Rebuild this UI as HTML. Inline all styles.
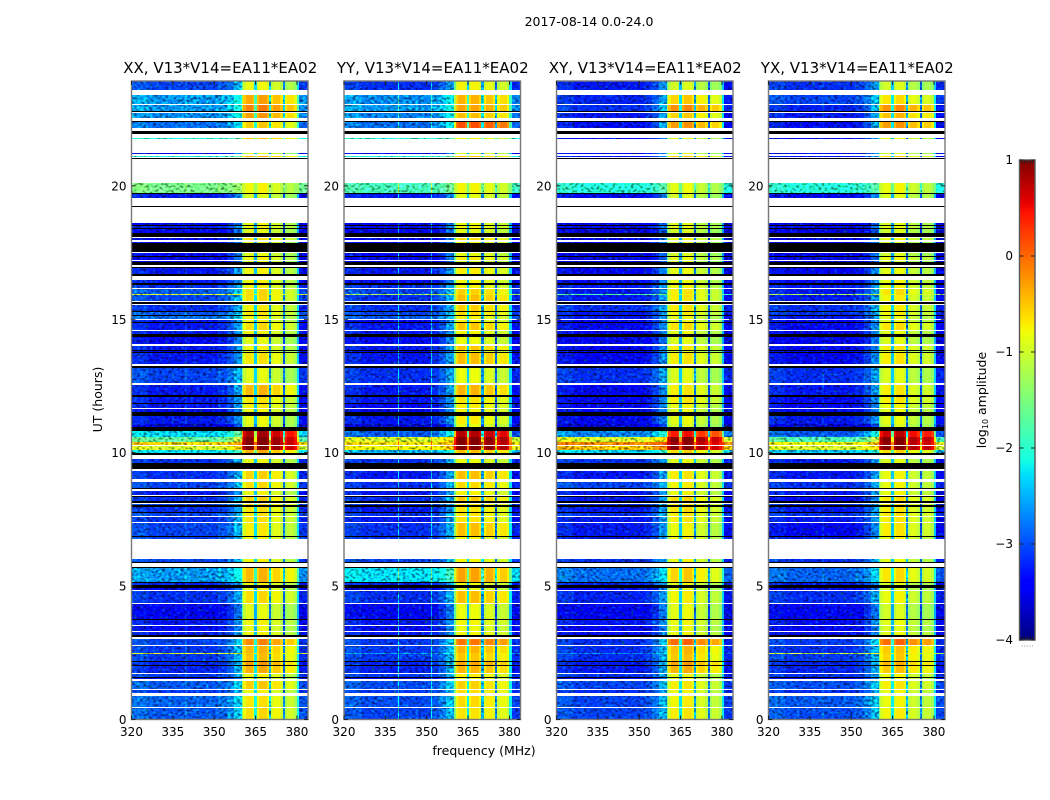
<!DOCTYPE html>
<html lang="en">
<head>
<meta charset="utf-8">
<title>2017-08-14 0.0-24.0</title>
<style>
html,body{margin:0;padding:0;background:#fff;}
svg{display:block;font-family:"DejaVu Sans","Liberation Sans",sans-serif;}
text{fill:#000;}
</style>
</head>
<body>
<svg id="figure" width="1050" height="800" viewBox="0 0 1050 800" xmlns="http://www.w3.org/2000/svg">
<defs>
<filter id="speckle" filterUnits="userSpaceOnUse" x="0" y="0" width="1050" height="800" color-interpolation-filters="sRGB">
<feTurbulence type="fractalNoise" baseFrequency="0.32 0.42" numOctaves="1" seed="7" result="n"/>
<feColorMatrix in="n" type="matrix" values="2.2 0 0 0 -0.6 2.2 0 0 0 -0.6 2.2 0 0 0 -0.6 0 0 0 0 1" result="gray"/>
<feComposite in="SourceGraphic" in2="gray" operator="arithmetic" k1="1.0" k2="0.5" k3="0" k4="0" result="shaded"/>
<feColorMatrix in="n" type="matrix" values="0 0 0 0 0 0 3 0 0 -1.6 0 0 0 0 0 0 0 0 0 1" result="greenSpeck"/>
<feComposite in="shaded" in2="greenSpeck" operator="arithmetic" k1="0" k2="1" k3="0.35" k4="0" result="lit"/>
<feComposite in="lit" in2="SourceGraphic" operator="in"/>
</filter>
</defs>
<rect x="0" y="0" width="1050" height="800" fill="#fff"/>
<text x="589" y="26" font-size="12.5" text-anchor="middle">2017-08-14 0.0-24.0</text>
<text x="484" y="755" font-size="12.5" text-anchor="middle">frequency (MHz)</text>
<text x="102" y="399.5" font-size="12.5" text-anchor="middle" transform="rotate(-90 102 399.5)">UT (hours)</text>
<text x="986" y="400" font-size="12.5" text-anchor="middle" transform="rotate(-90 986 400)">log<tspan font-size="8" dy="2">10</tspan><tspan dy="-2"> amplitude</tspan></text>
<g id="panels"></g>
<g id="colorbar"></g>
</svg>
<script>
// ---- chart data ----
const panelNames = ['XX', 'YY', 'XY', 'YX'];
const panelTitles = ['XX, V13*V14=EA11*EA02', 'YY, V13*V14=EA11*EA02', 'XY, V13*V14=EA11*EA02', 'YX, V13*V14=EA11*EA02'];
const xTicks = [320, 335, 350, 365, 380];
const yTicks = [0, 5, 10, 15, 20];
const colorbarTicks = [1, 0, -1, -2, -3, -4];
const colorbarMinorTicks = [-3.9, -3.8, -3.7, -3.6, -3.5];

// upper edge (UT hours) of every time band, top to bottom
const rowTop = [
23.93,23.61,23.41,23.07,23.03,22.81,22.77,22.72,22.56,22.43,
22.40,22.16,22.07,21.95,21.80,21.76,21.22,21.18,21.13,21.08,
21.05,21.02,20.11,19.73,19.69,19.54,19.25,19.22,18.62,18.53,
18.50,18.43,18.38,18.25,18.10,18.06,17.96,17.91,17.85,17.53,
17.50,17.37,17.32,17.22,17.19,17.14,17.02,16.97,16.91,16.70,
16.62,16.47,16.35,16.29,16.16,16.14,15.95,15.91,15.70,15.64,
15.58,15.54,15.31,15.26,15.16,15.11,15.01,14.96,14.91,14.85,
14.61,14.56,14.44,14.35,14.06,13.99,13.85,13.81,13.77,13.73,
13.32,13.26,13.16,12.60,12.54,12.16,12.08,11.86,11.84,11.68,
11.64,11.53,11.38,11.06,10.97,10.82,10.60,10.41,10.29,10.25,
10.10,10.00,9.93,9.76,9.60,9.40,9.33,9.00,8.91,8.68,
8.63,8.58,8.50,8.48,8.43,8.38,8.33,8.19,8.10,8.08,
8.04,7.98,7.79,7.73,7.63,7.60,7.39,7.35,6.88,6.83,
6.77,6.02,5.91,5.88,5.73,5.67,5.17,5.13,5.03,4.94,
4.85,4.82,4.37,4.33,3.77,3.73,3.54,3.50,3.33,3.29,
3.17,3.08,3.03,2.79,2.75,2.48,2.46,2.19,2.16,2.04,
2.01,1.73,1.69,1.58,1.54,1.52,1.44,1.13,1.09,0.98,
0.88,0.48,0.44];
// d = measured data, w = blank (no data), k = flagged black
const rowKind = [
'd','w','d','w','d','k','w','d','w','k',
'd','w','k','w','d','w','d','w','d','w',
'k','w','d','k','d','w','k','w','d','k',
'd','k','d','k','w','d','w','d','k','w',
'd','k','d','w','d','k','w','k','d','k',
'w','d','k','d','w','d','d','d','w','k',
'w','d','k','d','k','d','w','d','k','d',
'w','d','k','d','w','d','k','d','k','d',
'w','k','d','w','d','k','d','k','d','w',
'd','k','d','d','k','d','d','d','w','d',
'd','k','w','d','k','w','d','w','d','k',
'w','d','w','d','w','k','d','k','w','d',
'k','d','k','d','w','d','w','d','k','d',
'w','d','k','w','k','d','k','d','k','d',
'w','d','w','d','k','d','w','d','w','d',
'k','w','d','w','d','d','d','k','d','k',
'd','w','d','k','d','w','d','w','d','w',
'd','w','d'];

// log10 amplitude of the continuum (320-352 MHz) for each data band
const xxContinuum = [
-3.1,-2.7,-2.7,-2.75,-2.9,-2.1,-3.4,-2.1,-1.55,-3.3,
-3.5,-3.3,-3.5,-3.4,-3.4,-3.4,-3.5,-3.5,-3.3,-3.3,
-3.2,-3.0,-1.0,-3.1,-3.2,-3.0,-2.9,-3.3,-3.3,-3.3,
-3.4,-3.3,-3.4,-3.3,-3.1,-3.3,-3.3,-3.3,-3.4,-3.3,
-3.7,-2.4,-1.7,-0.5,-1.0,-2.3,-3.2,-3.2,-3.1,-3.3,
-3.3,-3.2,-3.1,-3.2,-3.1,-3.2,-3.1,-3.1,-3.1,-2.7,
-3.25,-3.5,-3.2,-3.45,-3.3,-3.4,-3.3,-3.1,-3.15,-1.0,
-3.15,-3.25,-3.25,-3.15,-3.4,-3.0,-3.15,-2.95,-3.0];
const yyContinuum = [
-3.2,-2.75,-2.7,-2.8,-2.9,-2.1,-3.4,-2.1,-1.85,-3.3,
-3.5,-3.4,-3.5,-3.5,-3.4,-3.4,-3.5,-3.5,-3.3,-3.4,
-3.2,-3.1,-1.3,-3.2,-3.2,-3.1,-3.0,-3.4,-3.3,-3.3,
-3.4,-3.3,-3.4,-3.3,-3.2,-3.3,-3.3,-3.4,-3.4,-3.3,
-3.7,-3.0,-1.0,-0.6,-0.8,-2.6,-3.2,-3.3,-3.2,-3.3,
-3.3,-3.2,-3.2,-3.3,-3.2,-3.3,-3.2,-3.2,-3.1,-2.35,
-3.25,-3.5,-3.2,-3.45,-3.3,-3.4,-3.3,-3.15,-3.15,-2.7,
-3.15,-3.25,-3.25,-3.15,-3.4,-3.05,-3.15,-3.05,-3.1];
const xyContinuum = [
-3.3,-3.25,-3.2,-3.3,-3.35,-3.4,-3.4,-3.35,-2.05,-3.4,
-3.6,-3.4,-3.6,-3.5,-3.4,-3.5,-3.6,-3.5,-3.4,-3.4,
-3.3,-3.3,-1.8,-3.3,-3.2,-3.3,-3.3,-3.4,-3.4,-3.4,
-3.5,-3.4,-3.4,-3.4,-3.2,-3.4,-3.4,-3.4,-3.4,-3.4,
-3.7,-2.8,-1.0,-0.1,-0.4,-2.4,-3.2,-3.3,-3.1,-3.3,
-3.3,-3.3,-3.2,-3.3,-3.2,-3.3,-3.3,-3.3,-3.2,-2.9,
-3.25,-3.5,-3.25,-3.45,-3.3,-3.45,-3.4,-3.2,-3.2,-2.8,
-3.2,-3.3,-3.3,-3.2,-3.45,-3.1,-3.2,-3.1,-3.1];
const yxContinuum = [
-3.2,-3.1,-3.25,-3.3,-3.35,-3.4,-3.4,-3.35,-2.05,-3.4,
-3.6,-3.5,-3.6,-3.5,-3.4,-3.5,-3.6,-3.6,-3.4,-3.4,
-3.3,-3.3,-1.3,-3.3,-3.2,-3.2,-3.3,-3.4,-3.4,-3.4,
-3.5,-3.4,-3.4,-3.4,-3.2,-3.3,-3.4,-3.4,-3.4,-3.3,
-3.7,-3.0,-1.8,-0.8,-1.0,-2.5,-3.3,-3.3,-3.2,-3.3,
-3.3,-3.4,-3.2,-3.3,-3.2,-3.3,-3.4,-3.3,-3.2,-2.95,
-3.3,-3.5,-3.2,-3.45,-3.35,-3.45,-3.4,-3.15,-3.2,-1.1,
-3.15,-3.25,-3.25,-3.2,-3.4,-3.05,-3.2,-3.0,-3.05];

// log10 amplitude of the passband (360-380 MHz) for each data band
const xxPassband = [
-0.75,-0.25,-0.05,-0.2,-0.45,-0.4,-0.85,-0.35,-0.7,-0.85,
-0.75,-0.7,-0.8,-0.6,-0.8,-0.8,-0.7,-0.85,-0.7,-0.7,
-0.7,-0.55,-0.5,-0.55,-0.65,-0.6,-0.7,-0.7,-0.55,-0.7,
-0.8,-0.7,-0.8,-0.6,-0.8,-0.35,-0.6,-0.65,-0.7,-0.75,
-0.8,0.9,1.1,1.1,1.1,-0.3,-0.75,-0.5,-0.55,-0.7,
-0.7,-0.5,-0.5,-0.6,-0.6,-0.6,-0.65,-0.7,-0.7,-0.35,
-0.7,-0.75,-0.55,-0.8,-0.7,-0.75,-0.7,-0.1,-0.35,-0.4,
-0.4,-0.2,-0.3,-0.7,-0.75,-0.45,-0.7,-0.6,-0.55];
const yyPassband = [
-0.7,-0.35,-0.25,-0.4,0.2,-0.7,-0.85,-0.45,-0.7,-0.8,
-0.75,-0.7,-0.8,-0.55,-0.75,-0.8,-0.65,-0.85,-0.65,-0.7,
-0.7,-0.5,-0.5,-0.4,-0.5,-0.55,-0.7,-0.7,-0.45,-0.7,
-0.75,-0.45,-0.75,-0.4,-0.75,-0.35,-0.6,-0.65,-0.7,-0.65,
-0.8,0.85,1.1,1.05,1.1,-0.4,-0.75,-0.4,-0.55,-0.7,
-0.65,-0.45,-0.6,-0.6,-0.6,-0.6,-0.4,-0.7,-0.7,-0.25,
-0.75,-0.8,-0.4,-0.75,-0.7,-0.75,-0.7,0.0,-0.35,-0.45,
-0.45,-0.25,-0.35,-0.65,-0.75,-0.5,-0.55,-0.55,-0.6];
const xyPassband = [
-0.85,-0.45,-0.1,-0.45,-0.15,-0.75,-0.85,-0.45,-0.75,-0.85,
-0.8,-0.75,-0.85,-0.7,-0.85,-0.85,-0.75,-0.9,-0.75,-0.75,
-0.7,-0.6,-0.6,-0.6,-0.6,-0.65,-0.75,-0.75,-0.55,-0.75,
-0.8,-0.6,-0.85,-0.6,-0.8,-0.6,-0.6,-0.7,-0.75,-0.75,
-0.85,0.55,1.1,1.0,1.1,-0.5,-0.75,-0.6,-0.65,-0.7,
-0.7,-0.5,-0.6,-0.55,-0.6,-0.6,-0.7,-0.7,-0.7,-0.45,
-0.75,-0.8,-0.65,-0.75,-0.7,-0.75,-0.7,0.1,-0.35,-0.35,
-0.4,-0.2,-0.3,-0.75,-0.75,-0.6,-0.7,-0.65,-0.6];
const yxPassband = [
-0.85,-0.55,-0.1,-0.35,-0.15,-0.7,-0.85,-0.5,-0.7,-0.8,
-0.8,-0.75,-0.85,-0.7,-0.85,-0.85,-0.7,-0.9,-0.75,-0.7,
-0.7,-0.55,-0.55,-0.65,-0.65,-0.65,-0.75,-0.75,-0.55,-0.75,
-0.8,-0.6,-0.85,-0.6,-0.8,-0.6,-0.6,-0.7,-0.75,-0.75,
-0.85,0.8,1.1,1.05,1.1,-0.5,-0.8,-0.7,-0.7,-0.7,
-0.7,-0.55,-0.6,-0.6,-0.55,-0.6,-0.6,-0.7,-0.75,-0.55,
-0.8,-0.85,-0.7,-0.85,-0.75,-0.8,-0.75,0.1,-0.4,-0.45,
-0.45,-0.3,-0.4,-0.7,-0.75,-0.6,-0.7,-0.7,-0.65];

// frequency channels (MHz) and the spectral shape across them
const freqEdges = [320,326,332,339.5,340,346,351.5,352,354.5,357,360,360.6,361.5,364,364.6,365.4,366.2,369,369.8,370.6,371.4,374,374.8,375.6,376.4,379,380,380.8,384];
const channelMix = [0.02,0,0,0,0,0,0,0.03,0.1,0.22,0.65,1,1,1,0.35,1,1,1,0.22,1,1,1,0.12,1,1,1,0.35,0];
const channelOffset = [0.05,0,0,0,0,0,0,0,0,0,0,-0.2,0,-0.2,0,-0.2,0,-0.2,0,-0.2,0,-0.2,0,-0.2,0,-0.2,0,-0.05];
const channelSubband = [-1,-1,-1,-1,-1,-1,-1,-1,-1,-1,-1,0,0,0,-1,1,1,1,-1,2,2,2,-1,3,3,3,-1,-1];
const channelStreak = [0,0,0,1,0,0,1,0,0,0,0,0,0,0,0,0,0,0,0,0,0,0,0,0,0,0,0,0];
const xxSubband = [-0.08, -0.03, -0.22, -0.42];
const yySubband = [-0.05, -0.05, -0.15, -0.28];
const xySubband = [-0.12, -0.05, -0.28, -0.42];
const yxSubband = [-0.12, -0.05, -0.3, -0.38];
const panelStreak = [0.15, 0.8, 0, 0.1];

const continuumByPanel = [xxContinuum, yyContinuum, xyContinuum, yxContinuum];
const passbandByPanel = [xxPassband, yyPassband, xyPassband, yxPassband];
const subbandByPanel = [xxSubband, yySubband, xySubband, yxSubband];

// ---- axes ----
const SVG_NS = 'http://www.w3.org/2000/svg';
const panelLeft = [131.5, 344, 556.5, 768.5];
const panelWidth = 176.5;
const plotTop = 81;
const plotBottom = 719.5;
const freqMin = 320;
const freqMax = 384;
const utMin = 0;
const utMax = 23.93;
const amplitudeMin = -4;
const amplitudeMax = 1;
const colorbarLeft = 1019.5;
const colorbarRight = 1035;
const colorbarTop = 160;
const colorbarBottom = 640;

function xScale(panel, f) {
  return panelLeft[panel] + (f - freqMin) / (freqMax - freqMin) * panelWidth;
}
function yScale(h) {
  return plotBottom - (h - utMin) / (utMax - utMin) * (plotBottom - plotTop);
}
function colorbarScale(v) {
  return colorbarBottom - (v - amplitudeMin) / (amplitudeMax - amplitudeMin) * (colorbarBottom - colorbarTop);
}
function interp(t, xs, ys) {
  if (t <= xs[0]) return ys[0];
  for (let i = 1; i < xs.length; i++) {
    if (t <= xs[i]) return ys[i - 1] + (t - xs[i - 1]) / (xs[i] - xs[i - 1]) * (ys[i] - ys[i - 1]);
  }
  return ys[ys.length - 1];
}
function jet(v) {
  const t = Math.max(0, Math.min(1, (v - amplitudeMin) / (amplitudeMax - amplitudeMin)));
  const r = interp(t, [0, 0.35, 0.66, 0.89, 1], [0, 0, 1, 1, 0.5]);
  const g = interp(t, [0, 0.125, 0.375, 0.64, 0.91, 1], [0, 0, 1, 1, 0, 0]);
  const b = interp(t, [0, 0.11, 0.34, 0.65, 1], [0.5, 1, 1, 0, 0]);
  return 'rgb(' + Math.round(r * 255) + ',' + Math.round(g * 255) + ',' + Math.round(b * 255) + ')';
}
function makeEl(tag, parent) {
  const el = document.createElementNS(SVG_NS, tag);
  parent.appendChild(el);
  return el;
}
function setAttrs(el, attrs) {
  for (const k in attrs) el.setAttribute(k, attrs[k]);
}
function formatTick(v) {
  return v < 0 ? '\u2212' + Math.abs(v) : String(v);
}

const panelsRoot = document.getElementById('panels');

panelNames.forEach(function (name, p) {
  const g = makeEl('g', panelsRoot);
  
  

  const x0 = panelLeft[p];
  const x1 = x0 + panelWidth;

  const title = makeEl('text', g);
  
  
  setAttrs(title, { x: x0 + panelWidth / 2 + 0.5, y: 73, 'font-size': 15, 'text-anchor': 'middle' });
  title.textContent = panelTitles[p];

  const continuumLayer = makeEl('g', g);
  
  
  continuumLayer.setAttribute('filter', 'url(#speckle)');
  const passbandLayer = makeEl('g', g);
  
  

  const low = continuumByPanel[p];
  const high = passbandByPanel[p];
  const sub = subbandByPanel[p];
  let dataIndex = 0;

  rowTop.forEach(function (top, r) {
    const bottom = r + 1 < rowTop.length ? rowTop[r + 1] : utMin;
    const yA = Math.round(yScale(top));
    const yB = Math.round(yScale(bottom));
    const kind = rowKind[r];
    if (kind === 'w') return;
    if (kind === 'k') {
      const bar = makeEl('rect', g);
      
      
      setAttrs(bar, { x: x0, y: yA, width: panelWidth, height: Math.max(1, yB - yA), fill: '#000', 'shape-rendering': 'crispEdges' });
      return;
    }
    const lv = low[dataIndex];
    const hv = high[dataIndex];
    dataIndex++;
    for (let c = 0; c < freqEdges.length - 1; c++) {
      const mix = channelMix[c];
      let v = lv + (hv - lv) * mix + channelOffset[c];
      if (channelSubband[c] >= 0) v += sub[channelSubband[c]];
      if (channelStreak[c]) v += panelStreak[p];
      const cx0 = Math.round(xScale(p, freqEdges[c]));
      const cx1 = Math.round(xScale(p, freqEdges[c + 1]));
      if (cx1 <= cx0) continue;
      const cell = makeEl('rect', mix >= 0.3 && c < 27 ? passbandLayer : continuumLayer);
      
      
      setAttrs(cell, { x: cx0, y: yA, width: cx1 - cx0, height: Math.max(1, yB - yA), fill: jet(v), 'shape-rendering': 'crispEdges' });
    }
  });

  const frame = makeEl('rect', g);
  
  
  setAttrs(frame, { x: x0, y: plotTop, width: panelWidth, height: plotBottom - plotTop, fill: 'none', stroke: '#777', 'stroke-width': 1.4 });

  xTicks.forEach(function (f) {
    const x = xScale(p, f);
    const tb = makeEl('line', g);
    
    
    setAttrs(tb, { x1: x, x2: x, y1: plotBottom, y2: plotBottom - 4, stroke: '#222', 'stroke-width': 1 });
    const tt = makeEl('line', g);
    
    
    setAttrs(tt, { x1: x, x2: x, y1: plotTop, y2: plotTop + 4, stroke: '#222', 'stroke-width': 1 });
    const lab = makeEl('text', g);
    
    
    setAttrs(lab, { x: x, y: 736, 'font-size': 12, 'text-anchor': 'middle' });
    lab.textContent = String(f);
  });

  yTicks.forEach(function (h) {
    const y = yScale(h);
    const tl = makeEl('line', g);
    
    
    setAttrs(tl, { x1: x0, x2: x0 + 4, y1: y, y2: y, stroke: '#222', 'stroke-width': 1 });
    const tr = makeEl('line', g);
    
    
    setAttrs(tr, { x1: x1, x2: x1 - 4, y1: y, y2: y, stroke: '#222', 'stroke-width': 1 });
    const lab = makeEl('text', g);
    
    
    setAttrs(lab, { x: x0 - 5, y: y + 4.5, 'font-size': 12, 'text-anchor': 'end' });
    lab.textContent = String(h);
  });
});

// ---- colorbar ----
const cbRoot = document.getElementById('colorbar');
for (let py = colorbarTop; py < colorbarBottom; py += 2) {
  const v = amplitudeMax - (py + 1 - colorbarTop) / (colorbarBottom - colorbarTop) * (amplitudeMax - amplitudeMin);
  const seg = makeEl('rect', cbRoot);
  
  
  setAttrs(seg, { x: colorbarLeft, y: py, width: colorbarRight - colorbarLeft, height: 2, fill: jet(v), 'shape-rendering': 'crispEdges' });
}
const cbFrame = makeEl('rect', cbRoot);


setAttrs(cbFrame, { x: colorbarLeft, y: colorbarTop, width: colorbarRight - colorbarLeft, height: colorbarBottom - colorbarTop, fill: 'none', stroke: '#555', 'stroke-width': 1.4 });

colorbarTicks.forEach(function (v) {
  const y = colorbarScale(v);
  const a = makeEl('line', cbRoot);
  
  
  setAttrs(a, { x1: colorbarLeft, x2: colorbarLeft + 4, y1: y, y2: y, stroke: '#222', 'stroke-width': 1 });
  const b = makeEl('line', cbRoot);
  
  
  setAttrs(b, { x1: colorbarRight, x2: colorbarRight - 4, y1: y, y2: y, stroke: '#222', 'stroke-width': 1 });
  const lab = makeEl('text', cbRoot);
  
  
  setAttrs(lab, { x: 1013, y: y + 4, 'font-size': 12, 'text-anchor': 'end' });
  lab.textContent = formatTick(v);
});

// short comb marks at the colorbar ends and the dotted row beneath it
colorbarMinorTicks.forEach(function (v) {
  const x = colorbarLeft + (v - colorbarMinorTicks[0] + 0.1) / 0.6 * (colorbarRight - colorbarLeft);
  const top = makeEl('line', cbRoot);
  
  
  setAttrs(top, { x1: x, x2: x, y1: colorbarTop, y2: colorbarTop + 3.5, stroke: '#222', 'stroke-width': 1 });
  const bottom = makeEl('line', cbRoot);
  
  
  setAttrs(bottom, { x1: x, x2: x, y1: colorbarBottom, y2: colorbarBottom - 3.5, stroke: '#222', 'stroke-width': 1 });
  const dot = makeEl('rect', cbRoot);
  
  
  setAttrs(dot, { x: x - 0.5, y: 645.5, width: 1, height: 1, fill: '#999' });
});
</script>
</body>
</html>
